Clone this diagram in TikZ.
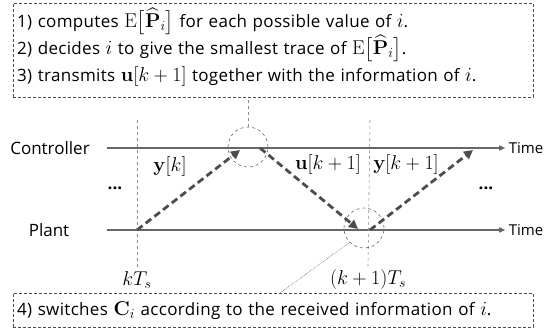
\RequirePackage{fix-cm}
\documentclass[tikz,border=0pt]{standalone}
\usepackage{amsmath}
\usepackage{amssymb}
\usepackage[no-math]{fontspec}
\setmainfont{Open Sans}[WordSpace=1.15]
\newfontfamily\notefont{Open Sans}[LetterSpace=2, WordSpace=1.15]
\DeclareMathSizes{17}{20}{14}{10}
\usepackage{xcolor}
\usepackage{tikz}
\usetikzlibrary{positioning, arrows.meta}

\begin{document}
\begin{tikzpicture}[
        x=1pt, y=-1pt,
        >={Triangle[length=6pt, width=5pt]},
        every node/.style={font=\fontsize{17}{20}\selectfont},
        timeline/.style={draw=black!60, line width=1.3pt},
        message/.style={-{Triangle[length=9pt, width=9pt]}, draw=black!70,
            line width=2.8pt, dash pattern=on 7pt off 4pt},
        tickline/.style={draw=black!45, dashed, line width=0.6pt},
        zoomring/.style={circle, draw=black!60, dashed, line width=0.6pt,
            minimum size=40pt, inner sep=0pt},
        notebox/.style={draw=black!70, densely dashed, line width=0.6pt,
            anchor=north west, inner sep=0pt, outer sep=0pt, minimum width=520pt},
        noteline/.style={anchor=base west, inner sep=0pt,
            font=\notefont\fontsize{17}{20}\selectfont},
      ]

      \useasboundingbox (0,0) rectangle (558,331);

      % notes
      \node[notebox, minimum height=94pt] (steps) at (13,3) {};
      \node[noteline] (step1) at (17,28)
        {1) computes $\mathrm{E}\big[\widehat{\mathbf{P}}_i\big]$ for each possible value of $i$.};
      \node[noteline] (step2) at (17,55)
        {2) decides $i$ to give the smallest trace of $\mathrm{E}\big[\widehat{\mathbf{P}}_i\big]$.};
      \node[noteline] (step3) at (17,82)
        {3) transmits $\mathbf{u}[k+1]$ together with the information of $i$.};
      \node[notebox, align=left, text width=512pt, inner xsep=4pt,
            text height=23pt, text depth=11pt, font=\notefont\fontsize{17}{20}\selectfont] (switch) at (13,293)
        {4) switches $\mathbf{C}_i$ according to the received information of $i$.};

      % time lines
      \node (ctrl)  at (50,148) {Controller};
      \node (plant) at (49,230) {Plant};
      \node[font=\fontsize{15}{18}\selectfont] (timeC) at (526,148) {Time};
      \node[font=\fontsize{15}{18}\selectfont] (timeP) at (526,230) {Time};
      \coordinate (c0) at (107,148);
      \coordinate (p0) at (107,230);
      \draw[timeline, ->] (c0) -- (timeC.west);
      \draw[timeline, ->] (p0) -- (timeP.west);

      % sampling instants
      \coordinate (t0top) at (137,120);
      \coordinate (t1top) at (370,120);
      \node (t0) at (137,280) {$kT_s$};
      \node (t1) at (368,280) {$(k+1)T_s$};
      \draw[tickline] (t0top) -- (t0.north);
      \draw[tickline] (t1top) -- (t1.north);

      \node[zoomring] (ringC) at (248,147) {};
      \node[zoomring] (ringP) at (364,228) {};
      \draw[tickline] (ringC.north) -- (ringC.north |- steps.south);
      \draw[black!60, densely dotted, line width=0.6pt] (ringP.225) -- ([xshift=7pt]switch.north);

      % messages
      \coordinate (yk0)  at (137,230);
      \coordinate (yk1)  at (240,150);
      \coordinate (uk0)  at (260,148);
      \coordinate (uk1)  at (358,229);
      \coordinate (yk20) at (370,230);
      \coordinate (yk21) at (473,150);
      \draw[message] (yk0) -- (yk1);
      \draw[message] (uk0) -- (uk1);
      \draw[message] (yk20) -- (yk21);

      \node (ylab)  at (170,167) {$\mathbf{y}[k]$};
      \node (ulab)  at (328,165) {$\mathbf{u}[k+1]$};
      \node (y2lab) at (406,165) {$\mathbf{y}[k+1]$};
      \node (dotsL) at (115,188) {\textbf{...}};
      \node (dotsR) at (486,188) {\textbf{...}};

    \end{tikzpicture}
\end{document}
